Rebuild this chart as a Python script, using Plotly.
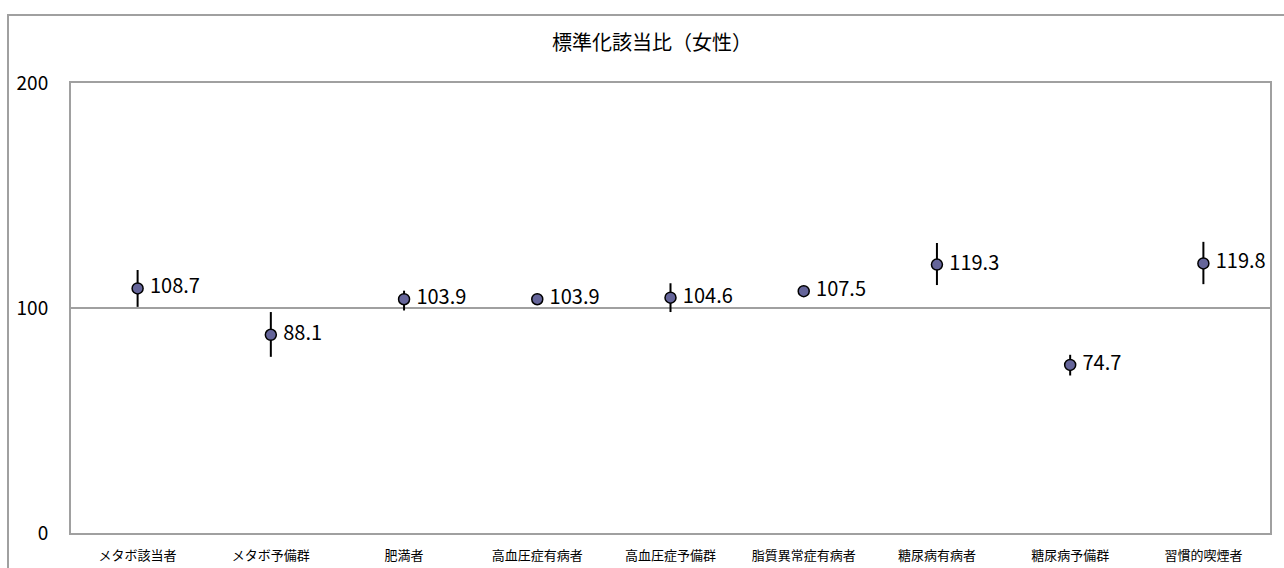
import plotly.graph_objects as go

# Standardised incidence ratio (female) by item, with confidence interval bounds
categories = ["メタボ該当者", "メタボ予備群", "肥満者", "高血圧症有病者", "高血圧症予備群",
              "脂質異常症有病者", "糖尿病有病者", "糖尿病予備群", "習慣的喫煙者"]
ratio = [108.7, 88.1, 103.9, 103.9, 104.6, 107.5, 119.3, 74.7, 119.8]
upper = [116.9, 98.2, 107.7, 106.3, 111.0, 109.3, 128.9, 79.2, 129.4]
lower = [100.5, 78.3, 98.9, 101.4, 98.2, 105.7, 110.2, 70.0, 110.6]
y_ticks = [0, 100, 200]

err_plus = [u - r for u, r in zip(upper, ratio)]
err_minus = [r - l for r, l in zip(ratio, lower)]

W, H = 1284, 568
L, R, T, B = 71, 14, 83, 35
pw, ph = W - L - R, H - T - B

FONT = "Noto Sans CJK JP"
GRAY = "#a0a0a0"

fig = go.Figure()
fig.add_trace(go.Scatter(
    x=categories, y=ratio,
    mode="markers+text",
    text=[f" {v:.1f}" for v in ratio],
    textposition="middle right",
    textfont=dict(family=FONT, size=20, color="#000000"),
    marker=dict(size=11, color="#65659a", line=dict(color="#000000", width=1.5)),
    error_y=dict(type="data", symmetric=False, array=err_plus, arrayminus=err_minus,
                 color="#000000", thickness=2, width=0),
    cliponaxis=False,
    showlegend=False,
))

# outer chart frame
fig.add_shape(type="rect", xref="paper", yref="paper",
              x0=(8 - L) / pw, x1=(W + 10 - L) / pw,
              y0=(H - B - (H + 10)) / ph, y1=(H - B - 15) / ph,
              line=dict(color=GRAY, width=2), fillcolor="rgba(0,0,0,0)", layer="below")

fig.update_layout(
    width=W, height=H,
    margin=dict(l=L, r=R, t=T, b=B, autoexpand=False),
    paper_bgcolor="#ffffff", plot_bgcolor="#ffffff",
    font=dict(family=FONT, color="#000000"),
    title=dict(text="標準化該当比（女性）", font=dict(family=FONT, size=20, color="#000000"),
               x=(652 - L) / pw, xref="paper", xanchor="center",
               y=1 - 43 / H, yref="container", yanchor="middle"),
    xaxis=dict(
        type="category", range=[-0.5, len(categories) - 0.5], automargin=False,
        showgrid=False, showline=True, mirror=True, linecolor=GRAY, linewidth=2,
        ticks="", tickfont=dict(family=FONT, size=13), ticklabelstandoff=9,
    ),
    yaxis=dict(
        range=[0, 200], tickvals=y_ticks, ticktext=[str(v) for v in y_ticks], automargin=False,
        showgrid=True, gridcolor=GRAY, gridwidth=1.5, zeroline=False,
        showline=True, mirror=True, linecolor=GRAY, linewidth=2,
        ticks="", tickfont=dict(family=FONT, size=19), ticklabelstandoff=17,
    ),
)

fig.write_html("out.html")
